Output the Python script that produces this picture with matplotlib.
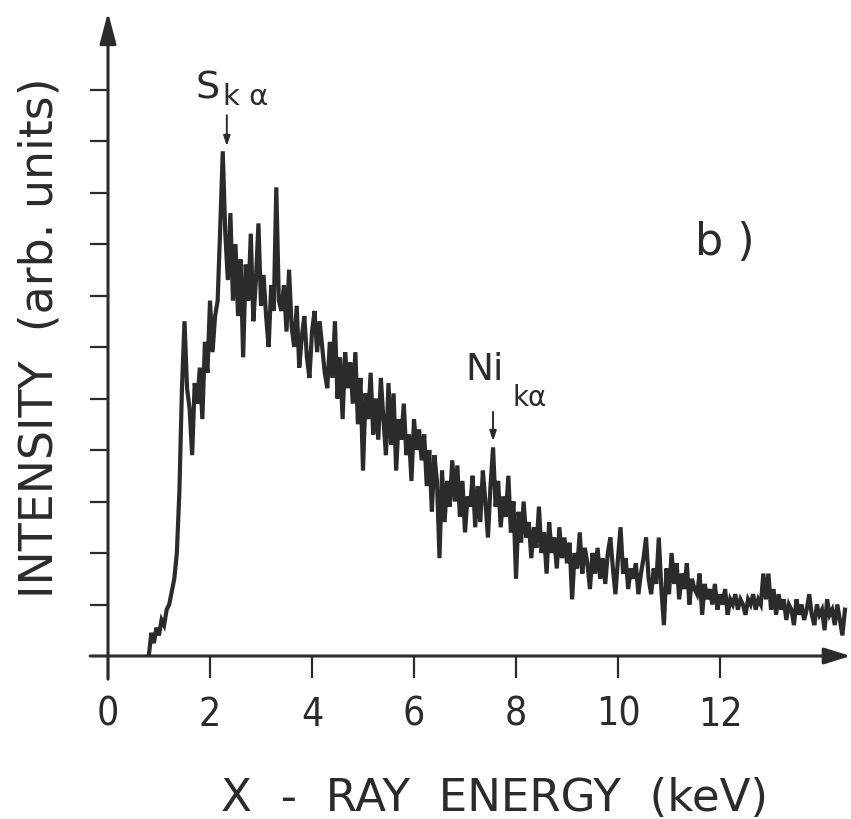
import numpy as np
import matplotlib
matplotlib.use("Agg")
import matplotlib.pyplot as plt

# spectrum, one value per 0.05 keV channel starting at 0.80 keV
e_start = 0.80
e_step = 0.05
intensity = [
    0.0, 0.45, 0.25, 0.55, 0.4, 0.7, 0.6, 0.9, 1.0, 1.25,
    1.5, 2.0, 3.2, 5.2, 6.5, 5.2, 4.8, 3.9, 5.3, 4.9,
    5.6, 4.6, 6.1, 5.5, 6.9, 5.9, 6.6, 6.9, 8.3, 9.8,
    8.2, 7.3, 8.6, 6.9, 8.0, 6.6, 7.7, 5.8, 7.6, 6.9,
    8.2, 6.5, 7.3, 8.4, 6.8, 7.4, 6.6, 6.0, 7.2, 6.7,
    9.1, 6.9, 6.7, 7.2, 6.3, 7.5, 6.4, 6.0, 6.8, 5.6,
    6.2, 6.6, 5.8, 5.4, 6.3, 6.7, 5.9, 6.5, 6.0, 5.5,
    5.2, 6.1, 5.4, 6.5, 5.0, 5.8, 4.6, 5.9, 5.2, 5.7,
    4.9, 5.9, 4.5, 5.4, 3.6, 5.1, 4.6, 5.5, 4.3, 5.0,
    4.2, 5.4, 4.6, 3.9, 5.3, 4.1, 5.1, 3.6, 4.6, 4.2,
    4.9, 3.9, 4.3, 3.4, 4.6, 4.0, 4.4, 3.8, 4.3, 3.3,
    4.0, 2.8, 3.9, 3.4, 1.9, 3.6, 2.6, 3.4, 2.9, 3.8,
    3.0, 3.7, 2.7, 3.4, 2.4, 3.1, 2.9, 3.5, 2.5, 3.3,
    2.6, 3.6, 3.0, 2.3, 3.3, 4.05, 2.9, 3.4, 2.5, 3.1,
    2.7, 3.5, 2.4, 3.0, 1.5, 2.8, 2.2, 3.0, 2.3, 2.6,
    1.9, 2.5, 2.1, 2.9, 2.0, 2.4, 1.6, 2.6, 2.0, 2.3,
    1.7, 2.5, 1.9, 2.3, 1.8, 2.2, 1.1, 2.0, 1.7, 2.4,
    1.6, 2.1, 1.8, 1.3, 2.0, 1.6, 2.1, 1.5, 1.9, 1.4,
    2.0, 2.3, 1.7, 1.2, 1.9, 2.5, 1.6, 1.9, 1.3, 1.7,
    1.5, 1.8, 1.2, 1.6, 1.9, 2.3, 1.5, 1.2, 1.7, 1.4,
    2.3, 1.3, 0.6, 1.7, 1.2, 2.0, 1.4, 1.8, 1.1, 1.6,
    1.3, 1.8, 1.0, 1.5, 1.3, 1.2, 1.6, 0.8, 1.4, 1.1,
    1.3, 1.0, 1.4, 0.9, 1.2, 1.0, 1.3, 0.8, 1.1, 1.0,
    1.2, 0.9, 1.1, 1.0, 0.8, 1.1, 1.0, 1.2, 0.9, 1.1,
    1.0, 1.6, 1.1, 1.6, 0.9, 1.3, 0.8, 1.2, 0.9, 1.1,
    0.7, 1.0, 0.9, 0.6, 1.1, 0.8, 1.0, 0.7, 0.9, 1.2,
    0.8, 0.6, 1.0, 0.8, 0.9, 0.5, 1.1, 0.8, 0.9, 0.6,
    1.0, 0.7, 0.4, 0.9,
]
energy = e_start + e_step * np.arange(len(intensity))

x_ticks = [0, 2, 4, 6, 8, 10, 12]
n_y_ticks = 11

ink = "#2b2b2b"

fig = plt.figure(figsize=(8.51, 8.20), dpi=100)
ax = fig.add_axes([108 / 851, (820 - 657) / 820, 743 / 851, 645 / 820])
ax.set_xlim(0, 743 / 51)
ax.set_ylim(0, 645 / 51.5)

ax.plot(energy, intensity, color=ink, lw=3.0, solid_joinstyle="miter")

for s in ax.spines.values():
    s.set_visible(False)

# axes drawn as arrows, like the hand-drawn original
ax.annotate("", xy=(14.56, 0), xytext=(-0.35, 0),
            arrowprops=dict(arrowstyle="-|>,head_length=1.6,head_width=0.5",
                            color=ink, lw=2.2, shrinkA=0, shrinkB=0),
            annotation_clip=False)
ax.annotate("", xy=(0, 12.5), xytext=(0, -0.45),
            arrowprops=dict(arrowstyle="-|>,head_length=1.9,head_width=0.5",
                            color=ink, lw=2.2, shrinkA=0, shrinkB=0),
            annotation_clip=False)

ax.set_xticks(x_ticks)
ax.set_yticks(np.arange(1, n_y_ticks + 1))
ax.set_yticklabels([])
ax.tick_params(axis="x", direction="out", length=16, width=1.6, color=ink,
               pad=12, labelsize=28, labelcolor=ink)
ax.tick_params(axis="y", direction="out", length=13, width=1.6, color=ink)
for lab in ax.get_xticklabels():
    lab.set_fontstretch("condensed")

ax.set_xlabel("X  -  RAY  ENERGY  (keV)", fontsize=32.5, color=ink, va="center")
ax.xaxis.set_label_coords((495 - 108) / 743, -(799 - 657) / 645)
ax.set_ylabel("INTENSITY  (arb. units)", fontsize=33, color=ink, va="center")
ax.yaxis.set_label_coords(-(108 - 40) / 743, (657 - 338) / 645)

# line labels
ax.text(1.96, 11.03, "S", fontsize=27.5, color=ink, ha="center", va="center")
ax.text(2.69, 10.87, "k α", fontsize=21, color=ink, ha="center", va="center")
ax.annotate("", xy=(2.33, 9.9), xytext=(2.33, 10.5),
            arrowprops=dict(arrowstyle="-|>,head_length=0.6,head_width=0.2",
                            color=ink, lw=1.4, shrinkA=0, shrinkB=0))
ax.text(7.39, 5.57, "Ni", fontsize=27, color=ink, ha="center", va="center")
ax.text(8.27, 5.03, "kα", fontsize=20, color=ink, ha="center", va="center")
ax.annotate("", xy=(7.55, 4.17), xytext=(7.55, 4.74),
            arrowprops=dict(arrowstyle="-|>,head_length=0.6,head_width=0.2",
                            color=ink, lw=1.4, shrinkA=0, shrinkB=0))
ax.text(12.1, 8.04, "b )", fontsize=32, color=ink, ha="center", va="center")

fig.savefig("out.png", dpi=100)
